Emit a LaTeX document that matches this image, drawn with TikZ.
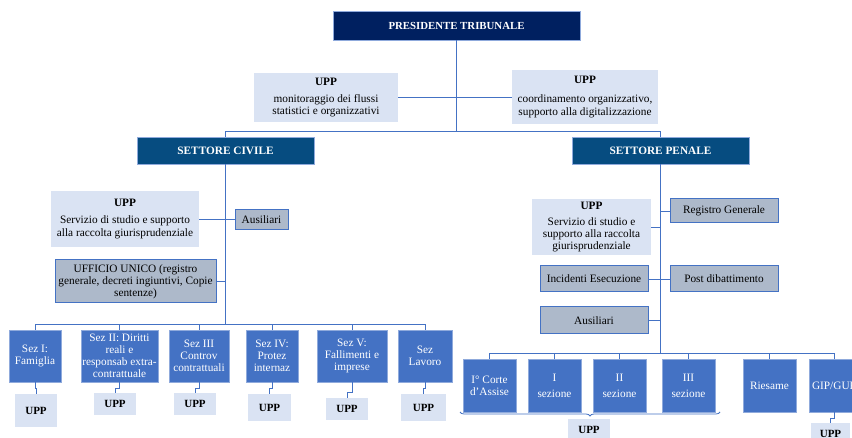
\documentclass[tikz,border=0pt]{standalone}
\usepackage{fontspec}
\setmainfont{Liberation Serif}
\usetikzlibrary{decorations.pathreplacing}
\definecolor{navy}{HTML}{002060}
\definecolor{sector}{HTML}{064C80}
\definecolor{boxblue}{HTML}{4472C4}
\definecolor{lightbox}{HTML}{DAE3F3}
\definecolor{graybox}{HTML}{ADB9CA}
\definecolor{edgelight}{HTML}{8FAADC}
\definecolor{conncol}{HTML}{4472C4}
\tikzset{
  base/.style={inner sep=0pt, outer sep=0pt, align=center, text=black, font=\fontsize{11.3}{12.2}\selectfont},
  head/.style={base, fill=navy, draw=edgelight, line width=0.5pt, text=white, font=\fontsize{10.8}{12}\selectfont\bfseries},
  sect/.style={base, fill=sector, draw=edgelight, line width=0.5pt, text=white, font=\fontsize{11.3}{12}\selectfont\bfseries},
  upp/.style={base, fill=lightbox},
  grey/.style={base, fill=graybox, draw=boxblue, line width=1pt},
  sez/.style={base, fill=boxblue, draw=edgelight, line width=0.6pt, text=white},
  uppsmall/.style={base, fill=lightbox, font=\fontsize{11}{12}\selectfont\bfseries},
  conn/.style={draw=conncol, line width=0.9pt},
}
\newcommand\bx[7]{\node[#2, minimum width={#5-#3}, minimum height={#6-#4}] (#1) at ({(#3+#5)/2},{(#4+#6)/2}) {#7};}
\begin{document}
\begin{tikzpicture}[x=1pt, y=-1pt]
\fill[white] (0,0) rectangle (852,438);
\useasboundingbox (0,0) rectangle (852,438);
\clip (0,0) rectangle (852,438);

% top
\bx{pres}{head}{333}{11}{580}{40}{PRESIDENTE TRIBUNALE}
\bx{uppL}{upp}{254}{73}{398}{122}{\textbf{UPP}\\[5pt]monitoraggio dei flussi\\statistici e organizzativi}
\bx{uppR}{upp}{512}{70}{658}{124}{\textbf{UPP}\\[7pt]coordinamento organizzativo,\\supporto alla digitalizzazione}
\bx{civ}{sect}{137}{137}{314}{164}{SETTORE CIVILE}
\bx{pen}{sect}{572}{137}{749}{164}{SETTORE PENALE}

% civile
\bx{uppC}{upp}{51}{191}{199}{247}{\textbf{UPP}\\[5pt]Servizio di studio e supporto\\alla raccolta giurisprudenziale}
\bx{ausC}{grey}{235}{210}{288}{230}{Ausiliari}
\bx{uff}{grey}{55}{260}{216}{303}{UFFICIO UNICO (registro\\generale, decreti ingiuntivi, Copie\\sentenze)}

\bx{s1}{sez}{9}{330}{61}{382}{Sez I:\\Famiglia}
\bx{s2}{sez}{81}{330}{158}{382}{Sez II: Diritti\\reali e\\responsab extra-\\contrattuale}
\bx{s3}{sez}{169}{330}{229}{382}{Sez III\\Controv\\contrattuali}
\bx{s4}{sez}{246}{330}{298}{382}{Sez IV:\\Protez\\internaz}
\bx{s5}{sez}{317}{330}{387}{382}{Sez V:\\Fallimenti e\\imprese}
\bx{s6}{sez}{398}{330}{452}{382}{Sez\\Lavoro}

\bx{u1}{uppsmall}{15}{394}{57}{427}{UPP}
\bx{u2}{uppsmall}{94}{393}{136}{415}{UPP}
\bx{u3}{uppsmall}{174}{393}{216}{415}{UPP}
\bx{u4}{uppsmall}{248}{394}{291}{421}{UPP}
\bx{u5}{uppsmall}{326}{398}{368}{420}{UPP}
\bx{u6}{uppsmall}{401}{394}{446}{421}{UPP}

% penale
\bx{uppP}{upp}{532}{199}{651}{255}{\textbf{UPP}\\[4pt]Servizio di studio e\\supporto alla raccolta\\giurisprudenziale}
\bx{reg}{grey}{670}{199}{778}{223}{Registro Generale}
\bx{inc}{grey}{540}{266}{648}{292}{Incidenti Esecuzione}
\bx{post}{grey}{670}{266}{778}{292}{Post dibattimento}
\bx{ausP}{grey}{540}{307}{648}{334}{Ausiliari}

\bx{p1}{sez}{463}{359}{516}{412}{I° Corte\\d’Assise}
\bx{p2}{sez}{528}{359}{581}{412}{I\\[4pt]sezione}
\bx{p3}{sez}{593}{359}{646}{412}{II\\[4pt]sezione}
\bx{p4}{sez}{662}{359}{715}{412}{III\\[4pt]sezione}
\bx{p5}{sez}{743}{359}{796}{412}{Riesame}
\bx{p6}{sez}{809}{359}{859}{412}{GIP/GUP}

\bx{uP}{uppsmall}{568}{419}{610}{440}{UPP}
\bx{uP6}{uppsmall}{811}{423}{850}{445}{UPP}

% connectors top
\coordinate (ytop) at (0,131.5);
\draw[conn] (pres.south) -- (pres.south |- ytop);
\draw[conn] (civ.north) |- (ytop -| pen.north) -- (pen.north);
\draw[conn] (uppL.east) -- (uppL.east -| pres.south);
\draw[conn] (uppR.west) -- (uppR.west -| pres.south);

% civile connectors
\coordinate (ycb) at (0,324);
\draw[conn] (civ.south) -- (civ.south |- ycb);
\draw[conn] (s1.north) |- (ycb -| s6.north) -- (s6.north);
\foreach \n in {s2,s3,s4,s5} \draw[conn] (\n.north) -- (\n.north |- ycb);
\draw[conn] (uppC.east) -- (uppC.east -| ausC.west);
\draw[conn] (uff.east) -- (uff.east -| civ.south);
\foreach \a/\b in {s1/u1,s2/u2,s3/u3,s4/u4,s6/u6} \draw[conn] (\a.south) -- ++(0,6) -| (\b.north);
\draw[conn] (s5.south) -- ++(0,10) -| (u5.north);

% penale connectors
\coordinate (ypb) at (0,353);
\draw[conn] (pen.south) -- (pen.south |- ypb);
\draw[conn] (p1.north) |- (ypb -| p6.north) -- (p6.north);
\foreach \n in {p2,p3,p4,p5} \draw[conn] (\n.north) -- (\n.north |- ypb);
\draw[conn] (uppP.east) -- (uppP.east -| pen.south);
\draw[conn] (reg.west) -- (reg.west -| pen.south);
\draw[conn] (inc.east) -- (post.west);
\draw[conn] (ausP.east) -- (ausP.east -| pen.south);
\draw[conn, line width=0.8pt, decorate, decoration={brace, mirror, amplitude=4pt}] ([xshift=-3pt]p1.south west) -- ([xshift=5pt]p4.south east);
\draw[conn] (p6.south) -- ++(0,6) -| (uP6.north);
\end{tikzpicture}
\end{document}
